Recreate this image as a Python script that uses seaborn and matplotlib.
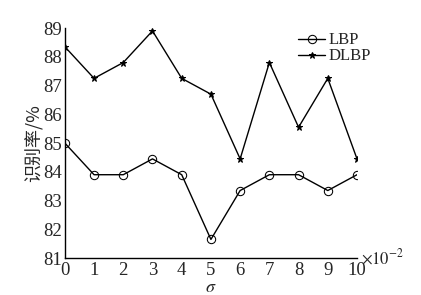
import numpy as np
import pandas as pd
import matplotlib
matplotlib.use('Agg')
import matplotlib.pyplot as plt
import seaborn as sns

sigma = [0, 1, 2, 3, 4, 5, 6, 7, 8, 9, 10]
lbp = [85.0, 83.9, 83.9, 84.45, 83.9, 81.65, 83.35, 83.9, 83.9, 83.35, 83.9]
dlbp = [88.35, 87.25, 87.8, 88.9, 87.25, 86.7, 84.45, 87.8, 85.55, 87.25, 84.45]
yticks = [81, 82, 83, 84, 85, 86, 87, 88, 89]

df = pd.DataFrame({
    'sigma': sigma * 2,
    'rate': lbp + dlbp,
    'method': ['LBP'] * len(sigma) + ['DLBP'] * len(sigma),
})

sns.set_style('white')
plt.rcParams['font.family'] = ['Liberation Serif', 'Noto Sans CJK SC']
plt.rcParams['mathtext.fontset'] = 'stix'

fig = plt.figure(figsize=(4.21, 2.95), dpi=100)
ax = fig.add_axes([0.154, 0.125, 0.694, 0.78])

sns.lineplot(data=df, x='sigma', y='rate', hue='method', style='method',
             markers={'LBP': 'o', 'DLBP': '*'}, dashes=False,
             palette={'LBP': 'black', 'DLBP': 'black'}, ax=ax,
             linewidth=1.0, markersize=6, mfc='none', mec='black')


def fix_marker(line):
    if line.get_marker() == '*':
        line.set_markerfacecolor('black')
        line.set_markersize(4.5)


for line in ax.lines:
    fix_marker(line)

ax.set_xlim(0, 10)
ax.set_ylim(81, 89)
ax.set_xticks(sigma)
ax.set_yticks(yticks)
ax.tick_params(direction='in', length=3, labelsize=13.5, width=0.8)
ax.tick_params(axis='x', pad=3)
ax.tick_params(axis='y', pad=2)
for s in ['top', 'right']:
    ax.spines[s].set_visible(False)
for s in ['left', 'bottom']:
    ax.spines[s].set_color('black')
    ax.spines[s].set_linewidth(1.0)

ax.set_xlabel(r'$\sigma$', fontsize=13, labelpad=0)
ax.set_ylabel('识别率/%', fontsize=13, family=['Noto Sans CJK SC'], labelpad=0)
ax.text(1.015, 0.0, r'$\times10^{-2}$', transform=ax.transAxes, fontsize=12,
        va='center', ha='left')

handles, labels = ax.get_legend_handles_labels()
for h in handles:
    fix_marker(h)
ax.legend(handles, labels, frameon=False, fontsize=12, loc='upper right',
          bbox_to_anchor=(1.07, 1.01), handlelength=1.6, handletextpad=0.2,
          labelspacing=0.0, borderaxespad=0)

fig.savefig('out.png', dpi=100)
